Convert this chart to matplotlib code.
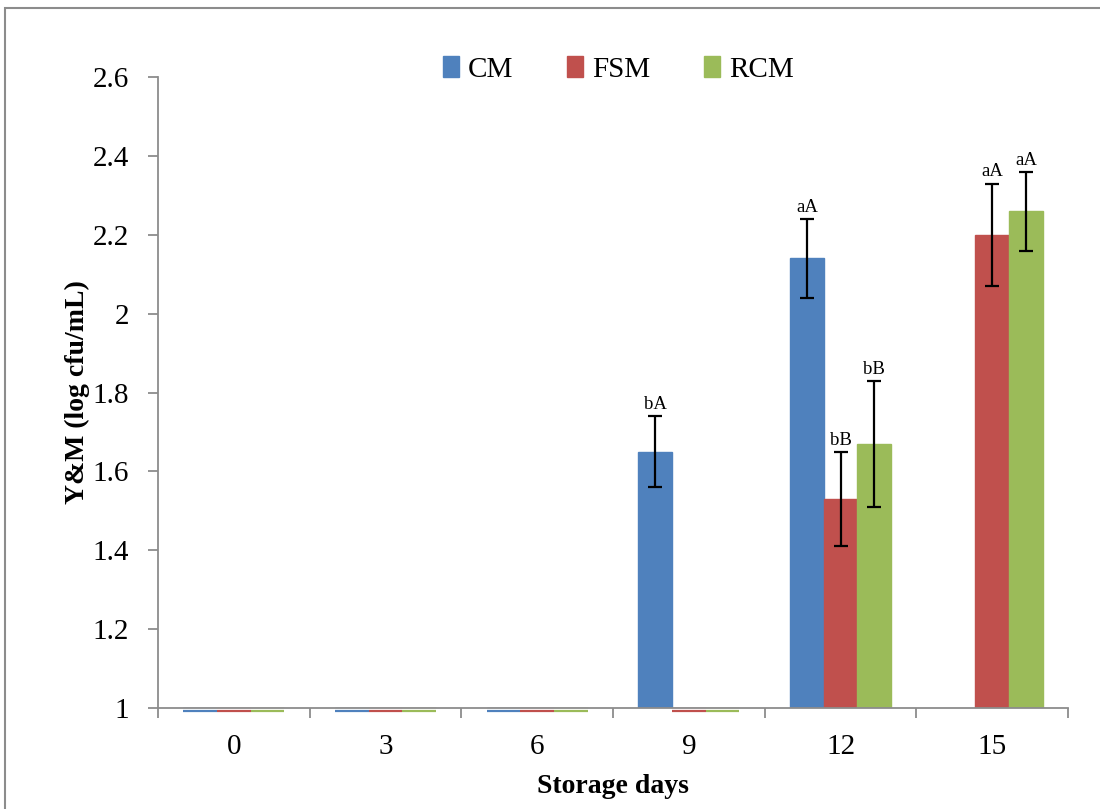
import numpy as np
import matplotlib
matplotlib.use("Agg")
import matplotlib.pyplot as plt
from matplotlib.patches import Rectangle, Patch

plt.rcParams['font.family'] = ['Liberation Serif', 'DejaVu Serif']

# Data
days = ['0', '3', '6', '9', '12', '15']
series = ['CM', 'FSM', 'RCM']
cm = [1.0, 1.0, 1.0, 1.65, 2.14, np.nan]
fsm = [1.0, 1.0, 1.0, 1.0, 1.53, 2.20]
rcm = [1.0, 1.0, 1.0, 1.0, 1.67, 2.26]
cm_err = [0, 0, 0, 0.09, 0.10, 0]
fsm_err = [0, 0, 0, 0, 0.12, 0.13]
rcm_err = [0, 0, 0, 0, 0.16, 0.10]
cm_lab = ['', '', '', 'bA', 'aA', '']
fsm_lab = ['', '', '', '', 'bB', 'aA']
rcm_lab = ['', '', '', '', 'bB', 'aA']

colors = ['#4F81BD', '#C0504D', '#9BBB59']
values = [cm, fsm, rcm]
errors = [cm_err, fsm_err, rcm_err]
labels = [cm_lab, fsm_lab, rcm_lab]

fig = plt.figure(figsize=(11, 8.09), dpi=100)
ax = fig.add_axes([0.1436, 0.1248, 0.8274, 0.78])

# outer chart border (cut off at right and bottom)
fig.patches.append(Rectangle((0.0045, -0.05), 1.2, 1.04, transform=fig.transFigure,
                             fill=False, edgecolor='#8c8c8c', linewidth=1.5))

x = np.arange(len(days))
w = 0.222
base = 1.0
shift_down = ax.transData + matplotlib.transforms.ScaledTranslation(0, -3 / 100, fig.dpi_scale_trans)
for i, (vals, errs, labs, c) in enumerate(zip(values, errors, labels, colors)):
    pos = x + (i - 1) * w
    v = np.array(vals, dtype=float)
    e = np.array(errs, dtype=float)
    ok = ~np.isnan(v)
    ax.bar(pos[ok], v[ok] - base, width=w, bottom=base, color=c,
           edgecolor=c, linewidth=1, zorder=2)
    # values sitting on the axis show as thin coloured lines just below it
    flat = ok & (v <= base)
    for p in pos[flat]:
        ax.plot([p - w / 2, p + w / 2], [base, base], color=c, lw=1.6,
                solid_capstyle='butt', zorder=4, clip_on=False, transform=shift_down)
    has = ok & (e > 0)
    ax.errorbar(pos[has], v[has], yerr=e[has], fmt='none', ecolor='black',
                elinewidth=1.6, capsize=4.8, capthick=1.6, zorder=3)
    for p, val, er, lab in zip(pos, v, e, labs):
        if lab:
            ax.text(p, val + er + 0.008, lab, ha='center', va='bottom', fontsize=13.5)

ax.set_ylim(1, 2.6)
ax.set_yticks(np.arange(1, 2.61, 0.2))
ax.set_yticklabels(['1', '1.2', '1.4', '1.6', '1.8', '2', '2.2', '2.4', '2.6'])
ax.set_xlim(-0.5, len(days) - 0.5)
ax.set_xticks(np.arange(-0.5, len(days)), [''] * (len(days) + 1))
ax.set_xticks(x, days, minor=True)
ax.tick_params(axis='x', which='minor', length=0, pad=19, labelsize=21)
ax.tick_params(axis='x', which='major', length=7, width=1.3, color='#8c8c8c')
ax.tick_params(axis='y', length=7, width=1.3, color='#8c8c8c', pad=14, labelsize=21)

for s in ['top', 'right']:
    ax.spines[s].set_visible(False)
for s in ['left', 'bottom']:
    ax.spines[s].set_color('#8c8c8c')
    ax.spines[s].set_linewidth(1.3)

ax.set_ylabel('Y&M (log cfu/mL)', fontsize=20, fontweight='bold', labelpad=2)
ax.set_xlabel('Storage days', fontsize=20, fontweight='bold', labelpad=10)

handles = [Patch(facecolor=c, edgecolor=c) for c in colors]
ax.legend(handles, series, loc='center', bbox_to_anchor=(0.506, 1.012), ncol=3,
          frameon=False, fontsize=21, handlelength=0.55, handleheight=0.7,
          handletextpad=0.3, columnspacing=1.85)

fig.savefig('out.png', dpi=100)
